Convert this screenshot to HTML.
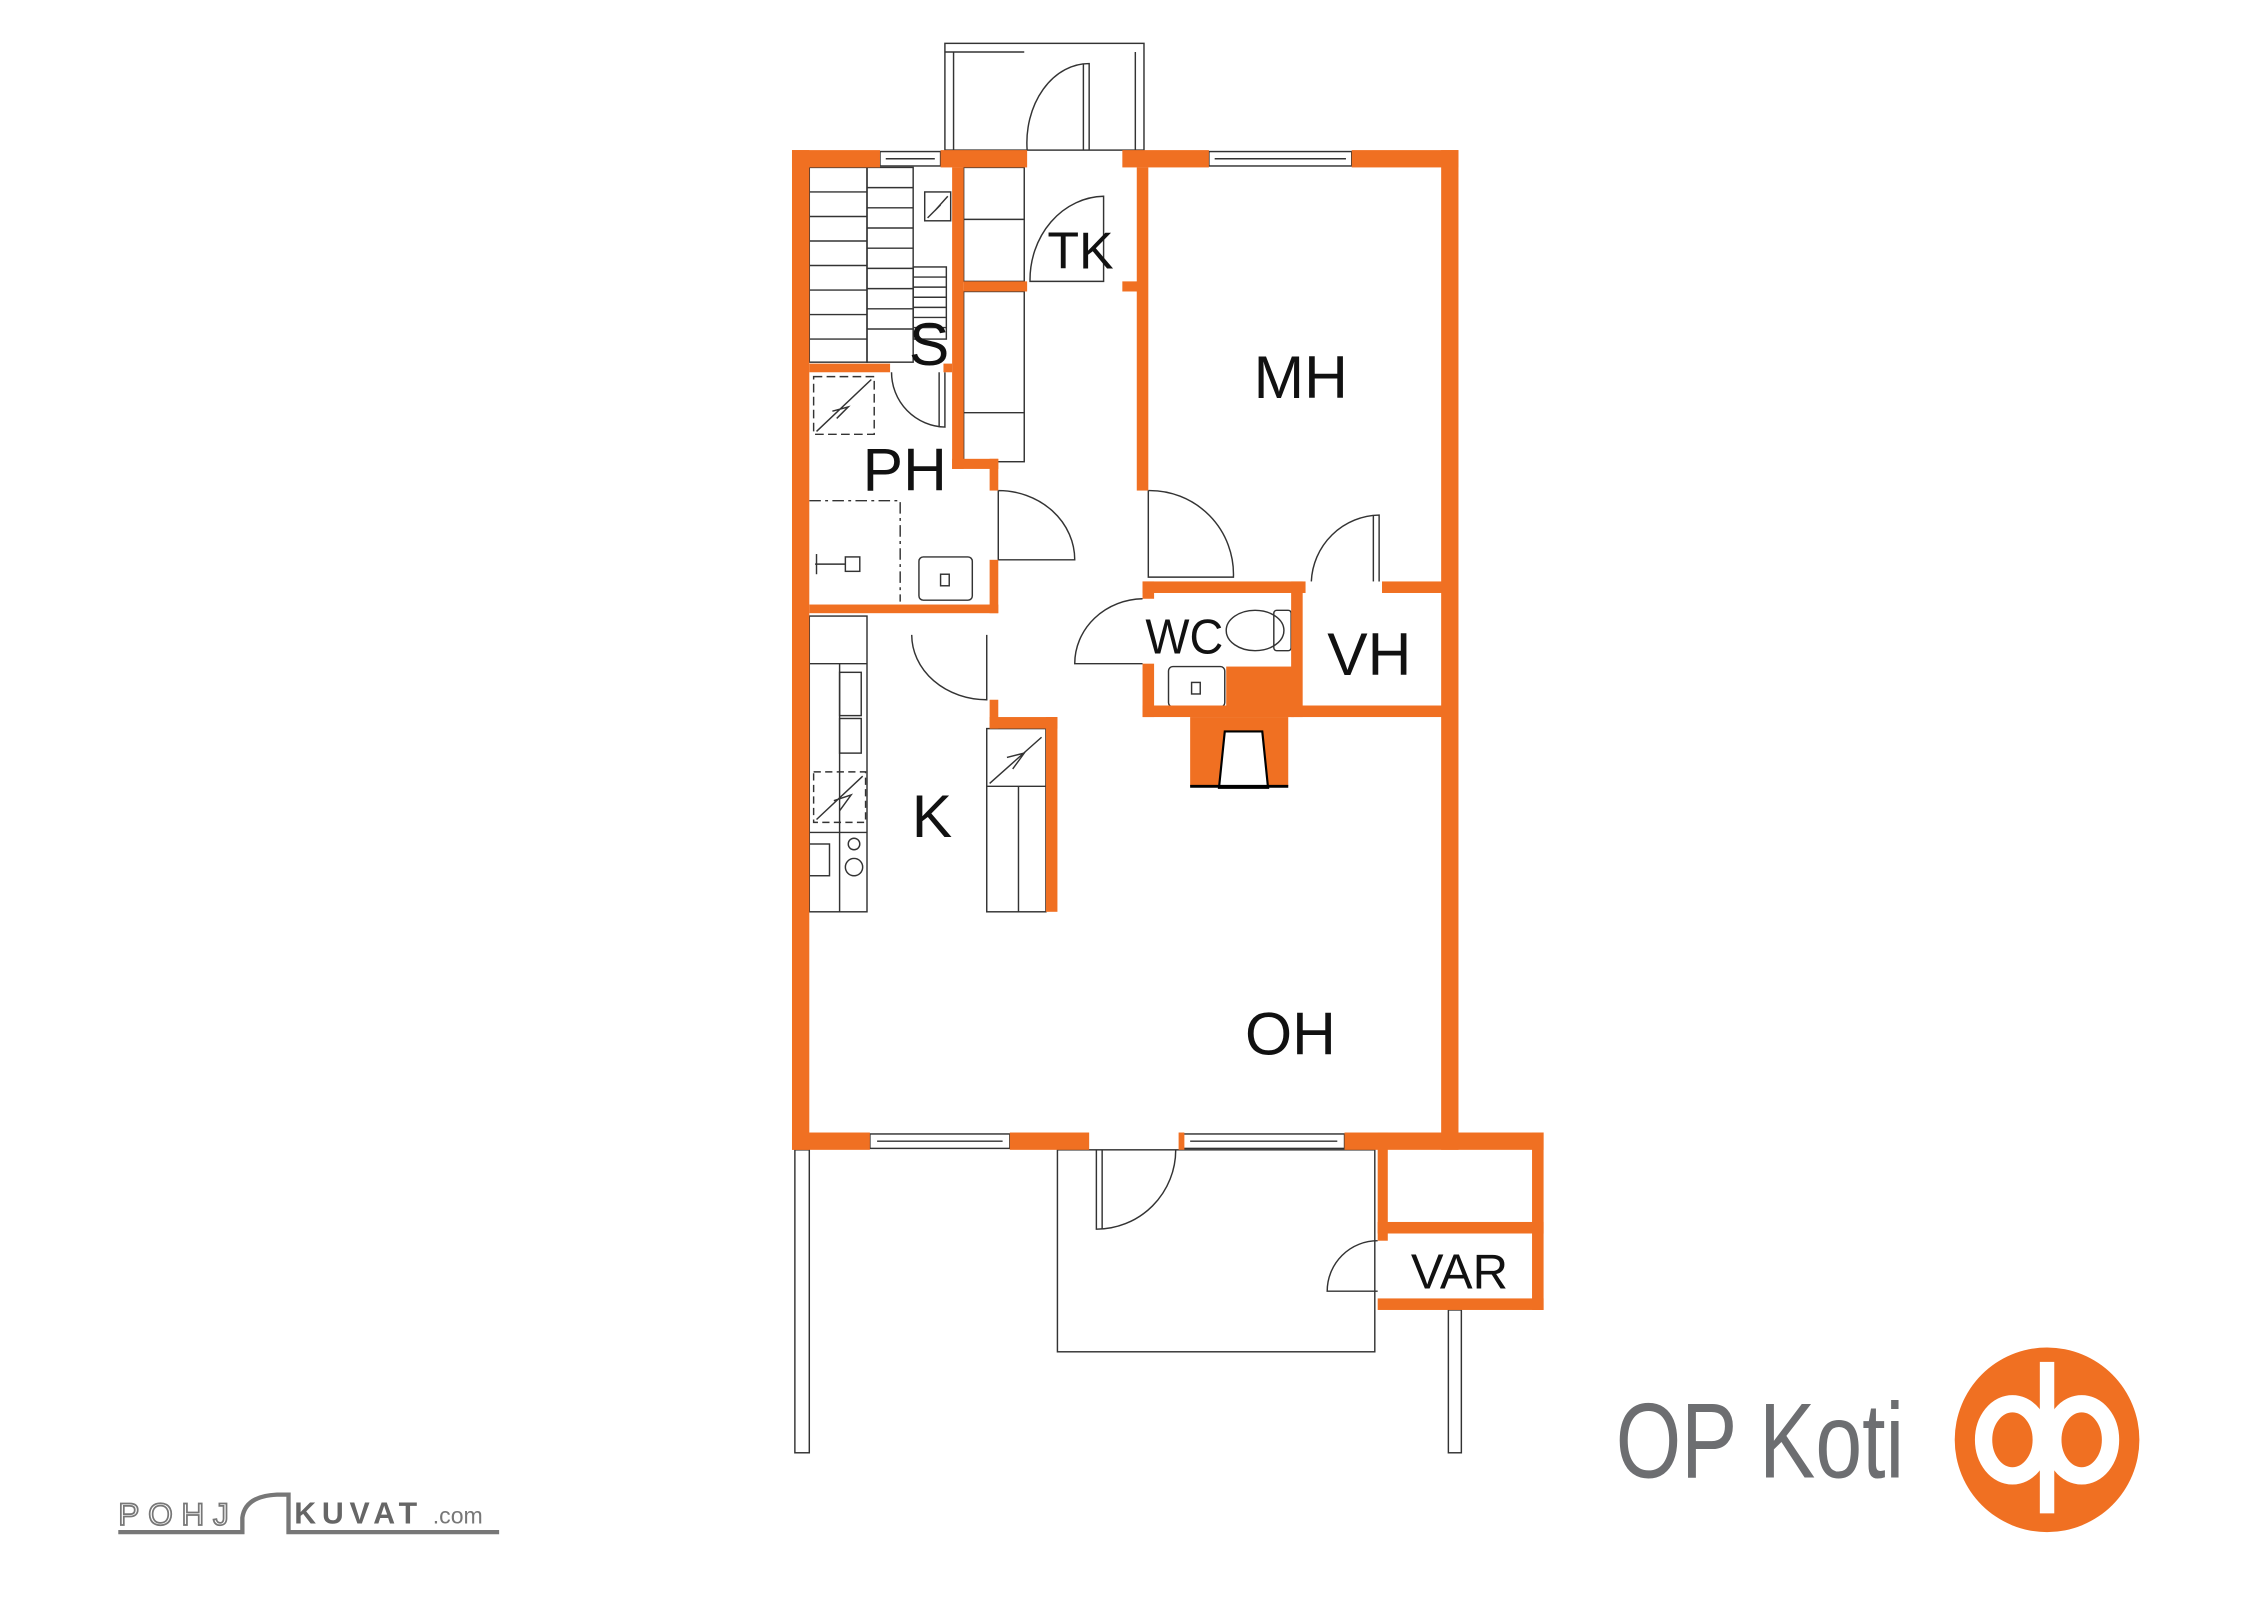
<!DOCTYPE html>
<html><head><meta charset="utf-8"><style>
html,body{margin:0;padding:0;background:#fff;}
svg{display:block;}
text{font-family:"Liberation Sans","DejaVu Sans",sans-serif;}
</style></head><body>
<svg width="2262" height="1600" viewBox="0 0 1568 1109" xmlns="http://www.w3.org/2000/svg">
<rect width="1568" height="1109" fill="#fff"/>
<g fill="none" stroke="#333" stroke-width="1">
<rect x="655" y="30" width="138" height="74"/>
<line x1="661" y1="36" x2="661" y2="104"/><line x1="787" y1="36" x2="787" y2="104"/>
<line x1="655" y1="36" x2="710" y2="36"/>
<path d="M712 104 A 43 55 0 0 1 755 44 L755 104"/><line x1="751" y1="44" x2="751" y2="104"/>
<rect x="733" y="797" width="220" height="140"/>
<rect x="551" y="797" width="10" height="210"/>
<rect x="1004" y="908" width="9" height="99"/>
<rect x="610" y="105" width="42" height="10"/><line x1="614" y1="110" x2="648" y2="110"/>
<rect x="838" y="105" width="99" height="10"/><line x1="842" y1="110" x2="933" y2="110"/>
<rect x="603" y="786" width="97" height="10"/><line x1="608" y1="791" x2="695" y2="791"/>
<rect x="820" y="786" width="112" height="10"/><line x1="825" y1="791" x2="927" y2="791"/>
<path d="M760 797 L760 852 A 55 55 0 0 0 815 797"/><line x1="764" y1="797" x2="764" y2="852"/>
<rect x="561" y="116" width="40" height="135"/>
<line x1="561" y1="133" x2="601" y2="133"/><line x1="561" y1="150" x2="601" y2="150"/><line x1="561" y1="167" x2="601" y2="167"/><line x1="561" y1="184" x2="601" y2="184"/><line x1="561" y1="201" x2="601" y2="201"/><line x1="561" y1="218" x2="601" y2="218"/><line x1="561" y1="235" x2="601" y2="235"/>
<rect x="601" y="116" width="32" height="135"/>
<line x1="601" y1="130" x2="633" y2="130"/><line x1="601" y1="144" x2="633" y2="144"/><line x1="601" y1="158" x2="633" y2="158"/><line x1="601" y1="172" x2="633" y2="172"/><line x1="601" y1="186" x2="633" y2="186"/><line x1="601" y1="200" x2="633" y2="200"/><line x1="601" y1="214" x2="633" y2="214"/><line x1="601" y1="228" x2="633" y2="228"/>
<rect x="633" y="185" width="23" height="50"/>
<line x1="633" y1="192" x2="656" y2="192"/><line x1="633" y1="199" x2="656" y2="199"/><line x1="633" y1="206" x2="656" y2="206"/><line x1="633" y1="213" x2="656" y2="213"/><line x1="633" y1="220" x2="656" y2="220"/><line x1="633" y1="227" x2="656" y2="227"/>
<rect x="641" y="133" width="18" height="20"/><path d="M643 151 L652 142 L648 146 L657 136"/>
<path d="M618 258 A 38 38 0 0 0 655 296 L655 258"/><line x1="651" y1="258" x2="651" y2="296"/>
<rect x="564" y="261" width="42" height="40" stroke-dasharray="6 3"/><path d="M566 299 L604 263 M577 285 L588 282 L580 290"/>
<path d="M561 347 L624 347 L624 417" stroke-dasharray="8 3 2 3"/>
<rect x="586" y="386" width="10" height="10"/><line x1="565" y1="391" x2="586" y2="391"/><line x1="566" y1="384" x2="566" y2="398"/>
<rect x="637" y="386" width="37" height="30" rx="3"/><rect x="652" y="398" width="6" height="8"/>
<path d="M692 340 L692 388 L745 388 A 53 48 0 0 0 692 340"/>
<rect x="668" y="116" width="42" height="79"/><line x1="668" y1="152" x2="710" y2="152"/>
<rect x="668" y="202" width="42" height="118"/><line x1="668" y1="286" x2="710" y2="286"/>
<path d="M714 195 A 52 58 0 0 1 765 136 L765 195 Z"/>
<path d="M796 340 L796 400 L855 400 A 58 58 0 0 0 796 340"/>
<path d="M909 403 A 48 48 0 0 1 956 357 L956 403"/><line x1="952" y1="357" x2="952" y2="403"/>
<path d="M792 415 A 48 45 0 0 0 745 460 L792 460"/>
<ellipse cx="870" cy="437" rx="20" ry="14"/><rect x="883" y="423" width="12" height="28" rx="2"/>
<rect x="810" y="462" width="39" height="28" rx="3"/><rect x="826" y="473" width="6" height="8"/>
<path d="M632 440 A 52 45 0 0 0 684 485 L684 440"/>
<rect x="561" y="427" width="40" height="205"/><line x1="561" y1="460" x2="601" y2="460"/><line x1="582" y1="460" x2="582" y2="632"/>
<rect x="582" y="466" width="15" height="30"/><rect x="582" y="498" width="15" height="24"/>
<rect x="564" y="535" width="36" height="35" stroke-dasharray="5 3"/><path d="M566 568 L598 538 M578 555 L590 551 L582 562"/>
<line x1="561" y1="577" x2="601" y2="577"/>
<rect x="561" y="585" width="14" height="22"/><circle cx="592" cy="585" r="4"/><circle cx="592" cy="601" r="6"/>
<rect x="684" y="505" width="41" height="127"/><line x1="684" y1="545" x2="725" y2="545"/><line x1="706" y1="545" x2="706" y2="632"/>
<path d="M686 543 L722 511 M698 525 L710 522 L702 533"/>
<path d="M955 860 A 35 35 0 0 0 920 895 L955 895"/>
</g>
<g fill="#f07022">
<rect x="549" y="104" width="61" height="12"/>
<rect x="652" y="104" width="60" height="12"/>
<rect x="778" y="104" width="60" height="12"/>
<rect x="937" y="104" width="74" height="12"/>
<rect x="549" y="104" width="12" height="693"/>
<rect x="999" y="104" width="12" height="693"/>
<rect x="549" y="785" width="54" height="12"/>
<rect x="700" y="785" width="55" height="12"/>
<rect x="817" y="785" width="4" height="12"/>
<rect x="932" y="785" width="138" height="12"/>
<rect x="1062" y="785" width="8" height="123"/>
<rect x="955" y="900" width="115" height="8"/>
<rect x="955" y="847" width="115" height="8"/>
<rect x="955" y="785" width="7" height="75"/>
<rect x="561" y="252" width="56" height="6"/>
<rect x="654" y="252" width="6" height="6"/>
<rect x="660" y="116" width="8" height="209"/>
<rect x="660" y="318" width="32" height="7"/>
<rect x="686" y="318" width="6" height="22"/>
<rect x="686" y="388" width="6" height="37"/>
<rect x="561" y="419" width="131" height="6"/>
<rect x="668" y="195" width="44" height="7"/>
<rect x="778" y="195" width="14" height="7"/>
<rect x="788" y="116" width="8" height="224"/>
<rect x="792" y="403" width="113" height="8"/>
<rect x="958" y="403" width="42" height="8"/>
<rect x="792" y="403" width="8" height="12"/>
<rect x="792" y="460" width="8" height="37"/>
<rect x="792" y="489" width="208" height="8"/>
<rect x="895" y="403" width="8" height="94"/>
<rect x="850" y="462" width="47" height="35"/>
<rect x="825" y="497" width="68" height="48"/>
<rect x="686" y="485" width="6" height="20"/>
<rect x="686" y="497" width="47" height="8"/>
<rect x="725" y="497" width="8" height="135"/>
</g>
<path d="M845 546 L849 507 L875 507 L879 546 Z" fill="#fff" stroke="#000" stroke-width="1.5"/>
<line x1="825" y1="545" x2="893" y2="545" stroke="#000" stroke-width="2"/>
<g fill="#111" font-size="42">
<text x="726" y="186" font-size="36">TK</text>
<text x="630" y="253">S</text>
<text x="869" y="276">MH</text>
<text x="598" y="340">PH</text>
<text x="794" y="453" font-size="34" textLength="54" lengthAdjust="spacingAndGlyphs">WC</text>
<text x="920" y="468">VH</text>
<text x="632" y="580">K</text>
<text x="863" y="731">OH</text>
<text x="978" y="893" font-size="34">VAR</text>
</g>
<text x="1120" y="1024" font-size="74" fill="#6d6e71" textLength="200" lengthAdjust="spacingAndGlyphs">OP Koti</text>
<circle cx="1419" cy="998" r="64" fill="#f07022"/>
<g fill="none" stroke="#fff" stroke-width="12">
<ellipse cx="1395" cy="998" rx="20" ry="25"/><ellipse cx="1443" cy="998" rx="20" ry="25"/>
</g>
<rect x="1414" y="944" width="10" height="105" fill="#fff"/>
<text x="82" y="1057" font-size="22" fill="#fff" stroke="#777" stroke-width="1.2" letter-spacing="6">POHJ</text>
<path d="M82 1062 L168 1062 L168 1052 Q170 1037 192 1036 L200 1036 L200 1062 L346 1062" fill="none" stroke="#777" stroke-width="3"/>
<text x="204" y="1056" font-size="21" fill="#666" font-weight="bold" letter-spacing="4">KUVAT</text>
<text x="300" y="1056" font-size="16" fill="#777">.com</text>
</svg>
</body></html>
